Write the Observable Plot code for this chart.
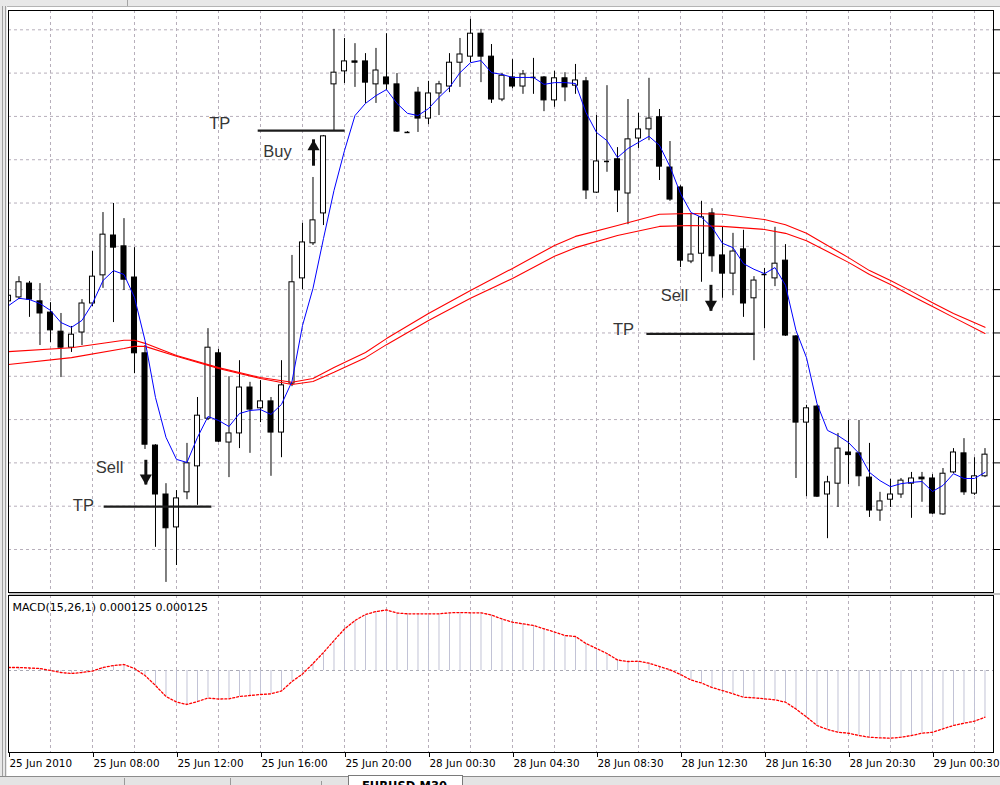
<!DOCTYPE html>
<html><head><meta charset="utf-8">
<script src="https://cdn.jsdelivr.net/npm/d3@7"></script>
<script src="https://cdn.jsdelivr.net/npm/@observablehq/plot@0.6"></script>
<style>
html,body{margin:0;padding:0;background:#fff;}
#wrap{position:relative;width:1000px;height:785px;overflow:hidden;background:#fff;font-family:"DejaVu Sans",sans-serif;}
.c{position:absolute;}
</style></head><body><div id="wrap"></div>
<script>
// ---------- data (EURUSD, M30, one candle per bar index) ----------
const opens = [1.22973,1.22982,1.23014,1.22973,1.22947,1.22903,1.22866,1.22901,1.22968,1.23033,
1.23125,1.23100,1.23028,1.22853,1.22640,1.22527,1.22451,1.22532,1.22592,1.22702,
1.22853,1.22647,1.22668,1.22774,1.22726,1.22742,1.22670,1.22783,1.23026,1.23107,
1.23176,1.23474,1.23504,1.23527,1.23527,1.23474,1.23490,1.23474,1.23365,1.23455,
1.23395,1.23453,1.23469,1.23524,1.23538,1.23591,1.23538,1.23439,1.23490,1.23469,
1.23492,1.23490,1.23437,1.23488,1.23471,1.23481,1.23224,1.23298,1.23301,1.23222,
1.23349,1.23370,1.23398,1.23282,1.23236,1.23065,1.23083,1.23176,1.23079,1.23037,
1.23093,1.22980,1.23037,1.23026,1.23067,1.22892,1.22693,1.22730,1.22527,1.22552,
1.22624,1.22622,1.22566,1.22490,1.22515,1.22527,1.22552,1.22566,1.22564,1.22481,
1.22578,1.22622,1.22529,1.22569];
const highs = [1.22991,1.23030,1.23019,1.23014,1.22970,1.22945,1.22915,1.22977,1.23088,1.23178,
1.23199,1.23164,1.23097,1.22871,1.22642,1.22552,1.22536,1.22645,1.22751,1.22910,
1.22862,1.22799,1.22836,1.22786,1.22790,1.22751,1.22836,1.23079,1.23153,1.23259,
1.23356,1.23601,1.23580,1.23568,1.23545,1.23557,1.23591,1.23499,1.23365,1.23467,
1.23481,1.23481,1.23545,1.23580,1.23624,1.23601,1.23566,1.23499,1.23531,1.23506,
1.23534,1.23492,1.23504,1.23501,1.23520,1.23490,1.23402,1.23471,1.23328,1.23439,
1.23407,1.23488,1.23416,1.23342,1.23240,1.23176,1.23204,1.23187,1.23144,1.23130,
1.23137,1.23030,1.23049,1.23144,1.23104,1.22894,1.22733,1.22733,1.22569,1.22668,
1.22698,1.22698,1.22645,1.22532,1.22562,1.22564,1.22578,1.22578,1.22573,1.22587,
1.22633,1.22656,1.22612,1.22633];
const lows = [1.22970,1.22977,1.22936,1.22871,1.22878,1.22797,1.22855,1.22871,1.22961,1.23003,
1.22924,1.22998,1.22806,1.22631,1.22405,1.22324,1.22363,1.22515,1.22502,1.22698,
1.22647,1.22566,1.22633,1.22622,1.22693,1.22569,1.22612,1.22776,1.23000,1.23102,
1.23148,1.23367,1.23476,1.23467,1.23430,1.23430,1.23460,1.23363,1.23363,1.23363,
1.23381,1.23402,1.23455,1.23467,1.23524,1.23478,1.23430,1.23434,1.23464,1.23451,
1.23451,1.23411,1.23421,1.23434,1.23451,1.23208,1.23222,1.23271,1.23178,1.23150,
1.23326,1.23344,1.23252,1.23204,1.23051,1.23060,1.23017,1.23040,1.22980,1.22986,
1.22936,1.22836,1.22910,1.23007,1.22892,1.22564,1.22522,1.22520,1.22425,1.22497,
1.22550,1.22545,1.22474,1.22465,1.22497,1.22518,1.22472,1.22509,1.22481,1.22479,
1.22575,1.22525,1.22525,1.22566];
const closes = [1.22986,1.23017,1.22977,1.22945,1.22906,1.22866,1.22896,1.22968,1.23030,1.23127,
1.23097,1.23023,1.22853,1.22642,1.22527,1.22449,1.22518,1.22599,1.22709,1.22866,
1.22649,1.22668,1.22774,1.22723,1.22742,1.22670,1.22779,1.23017,1.23109,1.23160,
1.23354,1.23501,1.23527,1.23524,1.23478,1.23506,1.23474,1.23365,1.23363,1.23395,
1.23453,1.23474,1.23524,1.23543,1.23591,1.23538,1.23439,1.23494,1.23469,1.23497,
1.23490,1.23437,1.23488,1.23467,1.23483,1.23229,1.23296,1.23296,1.23229,1.23347,
1.23370,1.23395,1.23284,1.23208,1.23067,1.23081,1.23167,1.23077,1.23037,1.23088,
1.22968,1.23021,1.23035,1.23060,1.22894,1.22693,1.22726,1.22522,1.22555,1.22633,
1.22618,1.22569,1.22490,1.22511,1.22527,1.22559,1.22564,1.22562,1.22483,1.22575,
1.22624,1.22532,1.22569,1.22619];
// fast moving average (blue), one value per bar
const maFast = [1.22963,1.22980,1.22977,1.22968,1.22952,1.22924,1.22913,1.22929,1.22968,1.23021,
1.23044,1.23035,1.22982,1.22883,1.22751,1.22659,1.22608,1.22601,1.22659,1.22707,
1.22698,1.22684,1.22714,1.22721,1.22723,1.22712,1.22735,1.22788,1.22917,1.23003,
1.23118,1.23229,1.23321,1.23402,1.23430,1.23448,1.23462,1.23430,1.23407,1.23402,
1.23418,1.23444,1.23467,1.23501,1.23524,1.23529,1.23501,1.23497,1.23490,1.23490,
1.23490,1.23474,1.23478,1.23478,1.23476,1.23409,1.23363,1.23344,1.23305,1.23326,
1.23340,1.23354,1.23333,1.23284,1.23222,1.23178,1.23167,1.23144,1.23107,1.23097,
1.23060,1.23047,1.23037,1.23051,1.23010,1.22906,1.22843,1.22737,1.22675,1.22663,
1.22647,1.22622,1.22578,1.22559,1.22545,1.22552,1.22555,1.22557,1.22534,1.22548,
1.22575,1.22564,1.22564,1.22578];
// slow moving averages (red pair), read at these bars
const slowBars = [0,6,11,12,13,16,20,24,27,29,31,34,36,40,44,48,52,54,58,62,65,68,72,74,76,78,80,82,84,86,88,90,93];
const maSlowA = [1.22857,1.22866,1.22883,1.22883,1.22876,1.22848,1.22820,1.22797,1.22786,1.22795,1.22820,1.22855,1.22887,1.22945,1.22998,1.23049,1.23102,1.23123,1.23148,1.23174,1.23176,1.23174,1.23162,1.23150,1.23130,1.23102,1.23074,1.23044,1.23021,1.22996,1.22970,1.22945,1.22913];
const maSlowB = [1.22827,1.22843,1.22864,1.22869,1.22869,1.22846,1.22818,1.22795,1.22781,1.22788,1.22809,1.22843,1.22873,1.22929,1.22980,1.23026,1.23077,1.23097,1.23125,1.23146,1.23148,1.23146,1.23139,1.23130,1.23113,1.23088,1.23063,1.23035,1.23012,1.22986,1.22961,1.22936,1.22899];
// MACD(15,26,1)
const macd = [0.000069,0.000069,0.000058,0.000046,0.000000,-0.000046,-0.000069,-0.000046,-0.000012,0.000069,
0.000115,0.000138,0.000046,-0.000115,-0.000346,-0.000599,-0.000726,-0.000783,-0.000714,-0.000634,
-0.000657,-0.000652,-0.000599,-0.000576,-0.000553,-0.000537,-0.000472,-0.000253,-0.000081,0.000161,
0.000415,0.000691,0.000956,0.001152,0.001290,0.001359,0.001394,0.001325,0.001306,0.001306,
0.001306,0.001306,0.001329,0.001336,0.001329,0.001329,0.001279,0.001187,0.001113,0.001076,
0.001037,0.000961,0.000887,0.000806,0.000783,0.000622,0.000507,0.000392,0.000242,0.000207,
0.000214,0.000168,0.000092,0.000016,-0.000092,-0.000219,-0.000288,-0.000392,-0.000461,-0.000537,
-0.000615,-0.000629,-0.000652,-0.000675,-0.000730,-0.000887,-0.001071,-0.001267,-0.001359,-0.001422,
-0.001445,-0.001498,-0.001537,-0.001551,-0.001560,-0.001537,-0.001498,-0.001445,-0.001422,-0.001343,
-0.001267,-0.001214,-0.001168,-0.001076];
// axes
const gridPrices = [1.2240,1.2250,1.2260,1.2270,1.2280,1.2290,1.2300,1.2310,1.2320,1.2330,1.2340,1.2350,1.2360];
const gridBars = [4,8,12,16,20,24,28,32,36,40,44,48,52,56,60,64,68,72,76,80,84,88,92];
const timeTickBars = [0,8,16,24,32,40,48,56,64,72,80,88];
const timeLabels = ["25 Jun 2010","25 Jun 08:00","25 Jun 12:00","25 Jun 16:00","25 Jun 20:00","28 Jun 00:30","28 Jun 04:30","28 Jun 08:30","28 Jun 12:30","28 Jun 16:30","28 Jun 20:30","29 Jun 00:30"];
const macdTitle = "MACD(15,26,1) 0.000125 0.000125";
// trade annotations
const tpPrice = [1.23367, 1.22499, 1.22898];
const tpFromBar = [23.78, 9.11, 60.80];
const tpToBar = [32.06, 19.37, 71.11];
const noteText = ["TP","Buy","Sell","TP","TP","Sell"];
const noteBar = [19.11, 24.26, 8.32, 6.13, 57.56, 62.11];
const notePrice = [1.23384, 1.23318, 1.22589, 1.22501, 1.22907, 1.22985];
const arrowDir = ["up","down","down"];
const arrowBar = [29.05, 13.08, 66.9];
const arrowFrom = [1.23285, 1.22606, 1.23010];
const arrowTo = [1.23346, 1.22549, 1.22950];

// ---------- build ----------
const bars = opens.map((o, i) => ({i, open: o, high: highs[i], low: lows[i], close: closes[i]}));
const doji = d => Math.abs(d.close - d.open) < 0.00002;
const bulls = bars.filter(d => !doji(d) && d.close > d.open);
const bears = bars.filter(d => !doji(d) && d.close < d.open);
const dojis = bars.filter(doji);
const tps = tpPrice.map((p, k) => ({p, a: tpFromBar[k], b: tpToBar[k]}));
const notes = noteText.map((t, k) => ({t, x: noteBar[k], y: notePrice[k]}));
const arrows = arrowDir.map((d, k) => ({d, x: arrowBar[k], from: arrowFrom[k], to: arrowTo[k]}));
const slow = slowBars.map((b, k) => ({b, a: maSlowA[k], c: maSlowB[k]}));

const xMax = 93.81, hw = 0.24;
const grid = "#b7afbb";
const wrap = document.getElementById("wrap");

const main = Plot.plot({
  width: 1000, height: 593, marginTop: 10, marginBottom: 1, marginLeft: 8, marginRight: 7,
  x: {domain: [0, xMax], axis: null, label: null},
  y: {domain: [1.2230072, 1.2364456], axis: null, label: null},
  style: {position: "absolute", left: "0px", top: "0px", background: "transparent", overflow: "visible"},
  marks: [
    Plot.ruleY(gridPrices, {y: d => d, stroke: grid, strokeDasharray: "3,3"}),
    Plot.ruleX(gridBars, {x: d => d, stroke: grid, strokeDasharray: "3,3"}),
    Plot.ruleX(bars, {x: "i", y1: "low", y2: "high", stroke: "#000", clip: true}),
    Plot.rect(bulls, {x1: d => d.i - hw, x2: d => d.i + hw, y1: "open", y2: "close", fill: "#fff", stroke: "#000", clip: true}),
    Plot.rect(bears, {x1: d => d.i - hw, x2: d => d.i + hw, y1: "open", y2: "close", fill: "#000", stroke: "#000", clip: true}),
    Plot.ruleY(dojis, {y: "close", x1: d => d.i - hw, x2: d => d.i + hw, stroke: "#000", strokeWidth: 1.5, clip: true}),
    Plot.line(slow, {x: "b", y: "a", stroke: "#ff0000", strokeWidth: 1.1, clip: true}),
    Plot.line(slow, {x: "b", y: "c", stroke: "#ff0000", strokeWidth: 1.1, clip: true}),
    Plot.line(bars, {x: "i", y: maFast, stroke: "#0000ff", strokeWidth: 1, clip: true}),
    Plot.ruleY(tps, {y: "p", x1: "a", x2: "b", stroke: "#1c1c1c", strokeWidth: 2.2}),
    Plot.ruleX(arrows, {x: "x", y1: "from", y2: "to", stroke: "#111", strokeWidth: 3}),
    Plot.dot(arrows.filter(a => a.d === "up"), {x: "x", y: "to", symbol: "triangle", r: 4.5, fill: "#111", stroke: null, dy: 7}),
    Plot.dot(arrows.filter(a => a.d === "down"), {x: "x", y: "to", symbol: "triangle", r: 4.5, fill: "#111", stroke: null, rotate: 180, dy: -7}),
    Plot.text(notes, {x: "x", y: "y", text: "t", textAnchor: "start", fontSize: 16.5, fontFamily: "Liberation Sans, Arial, sans-serif", fill: "#363636"}),
    Plot.frame({stroke: "#000"}),
    Plot.ruleY(gridPrices, {y: d => d, x1: () => xMax, x2: () => xMax + 0.7, stroke: "#000"})
  ]
});
wrap.appendChild(main);

const sub = Plot.plot({
  width: 1000, height: 182, marginTop: 1, marginBottom: 24, marginLeft: 8, marginRight: 7,
  x: {domain: [0, xMax], axis: null, label: null},
  y: {domain: [-0.001889, 0.001728], axis: null, label: null},
  style: {position: "absolute", left: "0px", top: "594px", background: "transparent", overflow: "hidden", fontFamily: "DejaVu Sans, sans-serif", fontSize: "11px"},
  marks: [
    Plot.ruleX(gridBars, {x: d => d, stroke: grid, strokeDasharray: "3,3"}),
    Plot.ruleY([0], {y: d => d, stroke: "#a9a9b4", strokeDasharray: "3,3"}),
    Plot.ruleX(bars, {x: "i", y1: () => 0, y2: macd, stroke: "#c2c3d6", clip: true}),
    Plot.line(bars, {x: "i", y: macd, stroke: "#ff0000", strokeWidth: 1.3, strokeDasharray: "2,2", clip: true}),
    Plot.text([macdTitle], {text: d => d, frameAnchor: "top-left", textAnchor: "start", lineAnchor: "top", dx: 4, dy: 8, fontSize: 11, fontFamily: "DejaVu Sans, sans-serif", fill: "#000"}),
    Plot.frame({stroke: "#000"}),
    Plot.axisX(timeTickBars, {anchor: "bottom", label: null, tickSize: 5, tickPadding: 2, textAnchor: "start", dx: 1,
      tickFormat: b => timeLabels[timeTickBars.indexOf(b)], fontSize: 10.4, fontFamily: "DejaVu Sans, sans-serif", fill: "#000", stroke: "#000"})
  ]
});
wrap.appendChild(sub);

// ---------- window chrome ----------
function box(css, text) {
  const d = document.createElement("div");
  d.className = "c";
  d.style.cssText = css;
  if (text) d.textContent = text;
  wrap.appendChild(d);
  return d;
}
box("left:0;top:0;width:1000px;height:6px;background:#e8e8e8;border-bottom:1px solid #b4b4b4;");
box("left:127px;top:0;width:1px;height:6px;background:#a4a4a4;");
box("left:0;top:0;width:7px;height:785px;background:#e8e8e8;");
box("left:2px;top:6px;width:1px;height:770px;background:#a0a0a0;");
box("left:5px;top:6px;width:1px;height:770px;background:#a0a0a0;");
box("left:9px;top:593px;width:991px;height:2px;background:#c2c2c2;");
box("left:0;top:776px;width:1000px;height:9px;background:#e4e4e4;border-top:1px solid #8c8c8c;");
box("left:124px;top:778px;width:1px;height:7px;background:#9a9a9a;");
box("left:230px;top:778px;width:1px;height:7px;background:#9a9a9a;");
box("left:321px;top:781px;width:1px;height:4px;background:#9a9a9a;");
const tab = box("left:348px;top:775px;width:113px;height:10px;background:#fff;border-left:1px solid #7a7a7a;border-right:1px solid #7a7a7a;border-top:1px solid #7a7a7a;overflow:hidden;");
const tabText = document.createElement("div");
tabText.style.cssText = "position:absolute;left:13px;top:4px;font:bold 11.5px 'DejaVu Sans',sans-serif;color:#000;white-space:nowrap;line-height:13px;";
tabText.textContent = "EURUSD,M30";
tab.appendChild(tabText);
</script></body></html>
